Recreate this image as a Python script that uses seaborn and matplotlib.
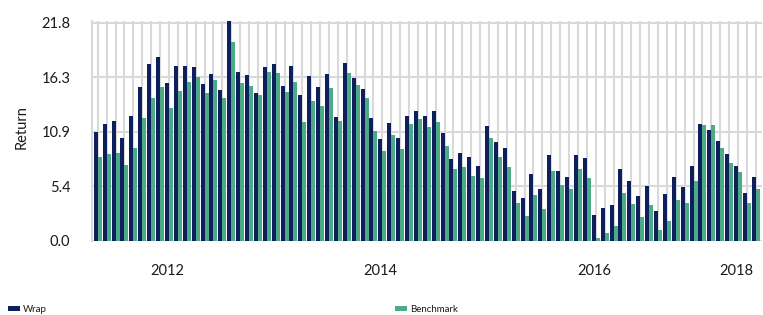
import matplotlib
matplotlib.use("Agg")
import matplotlib.pyplot as plt
import seaborn as sns
import pandas as pd

# monthly returns, 75 months
months = pd.date_range("2011-05-01", periods=75, freq="MS").strftime("%Y-%m").tolist()

wrap = [10.9, 11.7, 12.0, 10.3, 12.5, 15.4, 17.7, 18.4, 15.8, 17.5,
        17.5, 17.4, 15.7, 16.7, 15.1, 22.0, 16.9, 16.6, 14.8, 17.4,
        17.7, 15.5, 17.5, 14.6, 16.5, 15.4, 16.7, 12.4, 17.8, 16.3,
        15.2, 12.3, 10.2, 11.8, 10.3, 12.5, 13.0, 12.5, 13.0, 10.8,
        8.2, 8.8, 8.4, 7.5, 11.5, 9.9, 9.3, 5.0, 4.3, 6.7,
        5.2, 8.6, 7.0, 6.4, 8.6, 8.3, 2.6, 3.3, 3.6, 7.2,
        6.0, 4.5, 5.5, 3.0, 4.7, 6.4, 5.4, 7.5, 11.7, 11.1,
        10.0, 8.7, 7.5, 4.8, 6.4]

benchmark = [8.4, 8.7, 8.8, 7.6, 9.3, 12.3, 14.3, 15.4, 13.3, 15.0,
             15.9, 16.4, 14.8, 16.1, 14.3, 19.9, 15.8, 15.5, 14.6, 16.9,
             16.8, 14.9, 15.9, 11.9, 14.0, 13.5, 15.3, 12.0, 16.8, 15.6,
             14.3, 11.0, 9.0, 10.6, 9.2, 11.7, 12.2, 11.4, 11.9, 9.5,
             7.2, 7.4, 6.5, 6.3, 10.3, 8.4, 7.4, 3.8, 2.5, 4.6,
             3.2, 7.0, 5.6, 5.2, 7.2, 6.3, 0.3, 0.8, 1.5, 4.8,
             3.7, 2.4, 3.6, 1.1, 2.0, 4.1, 3.8, 6.0, 11.6, 11.6,
             9.3, 7.8, 6.9, 3.8, 5.2]

y_ticks = [0, 5.45, 10.9, 16.35, 21.8]
y_tick_labels = ["0.0", "5.4", "10.9", "16.3", "21.8"]
year_labels = ["2012", "2014", "2016", "2018"]
year_pos = [7.8, 31.8, 55.8, 71.8]
boundary_ticks = [0, 11, 35, 59]

df = pd.DataFrame({
    "month": months * 2,
    "value": wrap + benchmark,
    "series": ["Wrap"] * len(wrap) + ["Benchmark"] * len(benchmark),
})

sns.set_style("white")
plt.rcParams["font.family"] = ["Lato", "DejaVu Sans"]

grey = "#d9d9d9"
text_col = "#1a1a1a"
palette = {"Wrap": "#0e1f5e", "Benchmark": "#4caa87"}

fig = plt.figure(figsize=(7.63, 3.15), dpi=100)
ax = fig.add_axes([0.1212, 0.2359, 0.8775, 0.6961])

sns.barplot(data=df, x="month", y="value", hue="series",
            hue_order=["Wrap", "Benchmark"], palette=palette,
            width=0.9, saturation=1, linewidth=0, ax=ax)

handles, labels = ax.get_legend_handles_labels()
ax.get_legend().remove()

ax.set_axisbelow(True)
ax.set_xlim(-0.6, 74.7)
ax.set_ylim(0, 21.95)

# y axis
ax.set_yticks(y_ticks, y_tick_labels)
ax.tick_params(axis="y", length=9, width=1.5, color=grey, pad=7,
               labelsize=10.5, labelcolor=text_col)
ax.grid(axis="y", color=grey, linewidth=1.5)
ax.set_ylabel("Return", fontsize=10.5, color=text_col)
ax.yaxis.set_label_coords(-0.096, 0.518)

# x axis: grid at each month, tick marks at a few boundaries
ax.set_xticks(boundary_ticks, [""] * len(boundary_ticks))
ax.set_xticks(range(len(months)), minor=True)
ax.tick_params(axis="x", which="major", length=13, width=1.5, color=grey)
ax.tick_params(axis="x", which="minor", length=0)
ax.grid(axis="x", which="both", color=grey, linewidth=1.5)
ax.set_xlabel("")

sec = ax.secondary_xaxis("bottom")
sec.set_xticks(year_pos, year_labels)
sec.tick_params(length=0, pad=17, labelsize=10.5, labelcolor=text_col)
sec.spines["bottom"].set_visible(False)

for s in ["top", "right", "bottom"]:
    ax.spines[s].set_visible(False)
ax.spines["left"].set_color(grey)
ax.spines["left"].set_linewidth(1.5)

# legend entries at the bottom
leg_kw = dict(frameon=False, fontsize=7, handlelength=1.24, handleheight=0.47,
              handletextpad=0.3, borderpad=0, borderaxespad=0, loc="lower left",
              labelcolor=text_col)
fig.legend([handles[0]], [labels[0]], bbox_to_anchor=(0.0105, 0.004), **leg_kw)
fig.legend([handles[1]], [labels[1]], bbox_to_anchor=(0.5177, 0.004), **leg_kw)

fig.savefig("out.png", dpi=100)
